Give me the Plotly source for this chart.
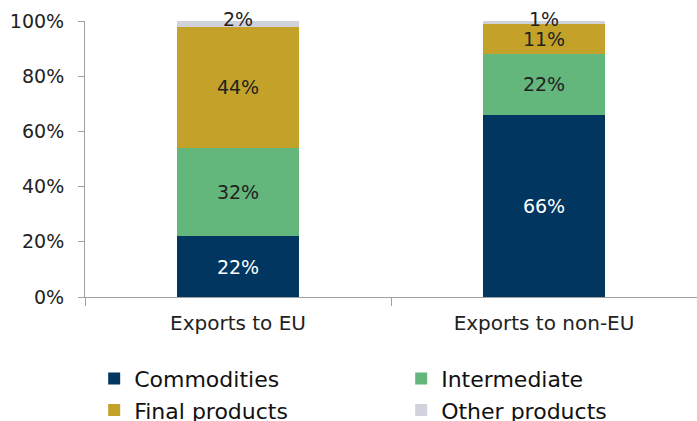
import plotly.graph_objects as go

categories = ["Exports to EU", "Exports to non-EU"]
commodities = [22, 66]
intermediate = [32, 22]
final_products = [44, 11]
other_products = [2, 1]
y_ticks = [0, 20, 40, 60, 80, 100]
y_tick_labels = [f"{t}%" for t in y_ticks]

series = [
    ("Commodities", commodities, "#003660", "white"),
    ("Intermediate", intermediate, "#63b77c", "#222222"),
    ("Final products", final_products, "#c4a22a", "#222222"),
    ("Other products", other_products, "#d0d2dc", "#222222"),
]

FONT = "DejaVu Sans, sans-serif"

fig = go.Figure()
for name, vals, color, tcolor in series:
    small = name == "Other products"
    fig.add_trace(go.Bar(
        x=categories, y=vals, name=name,
        marker=dict(color=color, line=dict(width=0)),
        text=None if small else [f"{v}%" for v in vals],
        textposition="inside", insidetextanchor="middle",
        textfont=dict(color=tcolor, size=19, family=FONT),
        hoverinfo="skip",
    ))

# Labels for the thin top segments sit on the top edge of each stack
totals = [a + b + c + d for a, b, c, d in zip(commodities, intermediate, final_products, other_products)]
for cat, v, tot in zip(categories, other_products, totals):
    fig.add_annotation(x=cat, y=tot, text=f"{v}%", showarrow=False,
                       yanchor="middle", yshift=2,
                       font=dict(size=19, color="#222222", family=FONT))

fig.update_layout(
    barmode="stack", bargap=0.6,
    width=697, height=421,
    margin=dict(l=85, r=0, t=21, b=124, autoexpand=False),
    plot_bgcolor="white", paper_bgcolor="white",
    font=dict(family=FONT, size=19, color="#222222"),
    uniformtext=dict(minsize=19, mode="show"),
    legend=dict(orientation="h", x=0.015, xanchor="left", y=-0.22, yanchor="top",
                entrywidth=262, entrywidthmode="pixels",
                font=dict(size=22, family=FONT, color="#111111"),
                traceorder="normal", itemwidth=30, tracegroupgap=0),
    showlegend=True,
)
fig.update_yaxes(range=[0, 100], tickvals=y_ticks, ticktext=y_tick_labels,
                 showgrid=False, showline=True, linecolor="#a0a0a0", linewidth=1,
                 ticks="outside", ticklen=6, tickcolor="#a0a0a0", ticklabelstandoff=10,
                 tickfont=dict(size=19, family=FONT, color="#222222"), zeroline=False)
fig.update_xaxes(showline=True, linecolor="#a0a0a0", linewidth=1,
                 ticks="outside", ticklen=8, tickcolor="#a0a0a0", tickson="boundaries",
                 ticklabelstandoff=8,
                 tickfont=dict(size=20, family=FONT, color="#222222"), showgrid=False)

fig.write_html("out.html")
